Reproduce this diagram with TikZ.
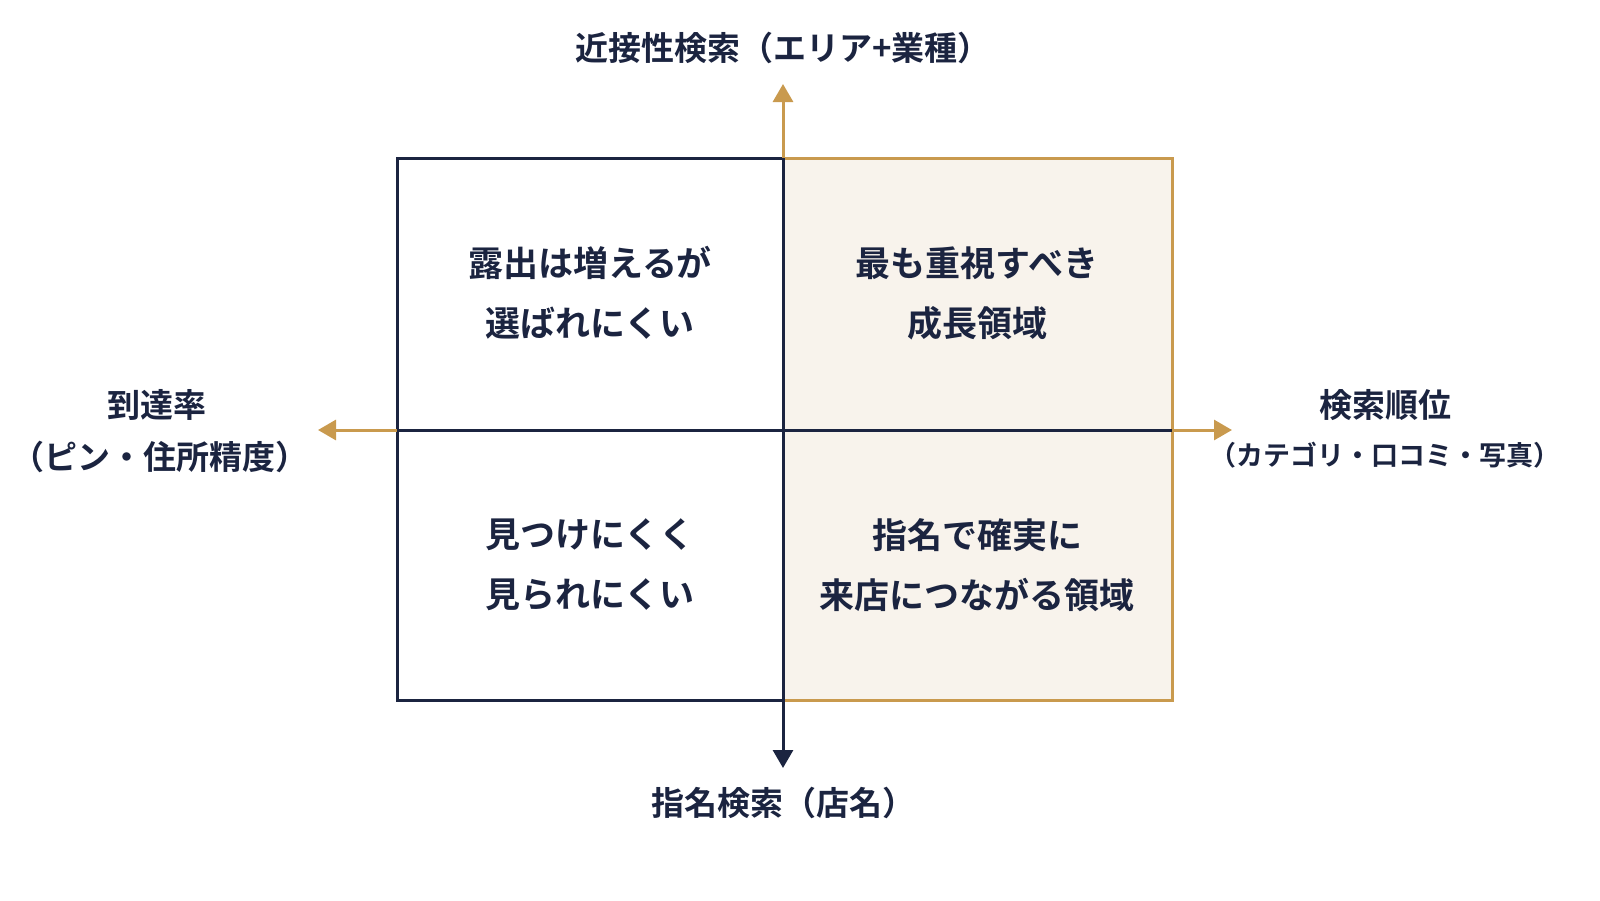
\documentclass[tikz,border=0pt]{standalone}
\usepackage{fontspec}
\newfontfamily\jp{Noto Sans CJK JP Bold}
\usetikzlibrary{arrows.meta}
\definecolor{navy}{HTML}{1B2440}
\definecolor{gold}{HTML}{C99A4E}
\definecolor{cream}{HTML}{F8F3EC}
\begin{document}
\begin{tikzpicture}[x=0.5pt,y=-0.5pt,
  lbl/.style={font=\jp\fontsize{16.5}{20}\selectfont,text=navy,align=center,inner sep=0},
  sub/.style={font=\jp\fontsize{13.5}{16}\selectfont,text=navy,align=center,inner sep=0},
  quad/.style={font=\jp\fontsize{17.5}{30}\selectfont,text=navy,align=center,inner sep=0},
  ax/.style={line width=1.5pt,-{Triangle[length=9pt,width=10pt]}}]
\useasboundingbox (0,0) rectangle (1600,900);
\coordinate (tl) at (397,158); \coordinate (br) at (1172,700);
\coordinate (mt) at (783,158); \coordinate (mb) at (783,700);
\coordinate (ml) at (397,430); \coordinate (mr) at (1172,430);
\coordinate (at) at (783,84); \coordinate (ab) at (783,768);
\coordinate (al) at (318,430); \coordinate (ar) at (1232,430);
\fill[cream] (mt) rectangle (br);
\draw[gold,line width=1.5pt] (mt) rectangle (br);
\draw[navy,line width=1.5pt] (tl) rectangle (mb);
\draw[navy,line width=1.5pt] (ml) -- (mr);
\draw[navy,line width=1.5pt] (mt) -- (mb);
\draw[ax,gold] (mt) -- (at);
\draw[ax,navy] (mb) -- (ab);
\draw[ax,gold] (ml) -- (al);
\draw[ax,gold] (mr) -- (ar);
\node[lbl] (tt) at (783,48) {近接性検索（エリア+業種）};
\node[lbl] (bt) at (783,803) {指名検索（店名）};
\node[lbl] (lt) at (157,405) {到達率};
\node[lbl] (ls) at (160,457) {（ピン・住所精度）};
\node[lbl] (rt) at (1385,405) {検索順位};
\node[sub] (rs) at (1385,455) {（カテゴリ・口コミ・写真）};
\node[quad] (q1) at (590,293) {露出は増えるが\\選ばれにくい};
\node[quad] (q2) at (977,293) {最も重視すべき\\成長領域};
\node[quad] (q3) at (590,565) {見つけにくく\\見られにくい};
\node[quad] (q4) at (977,565) {指名で確実に\\来店につながる領域};
\end{tikzpicture}
\end{document}
